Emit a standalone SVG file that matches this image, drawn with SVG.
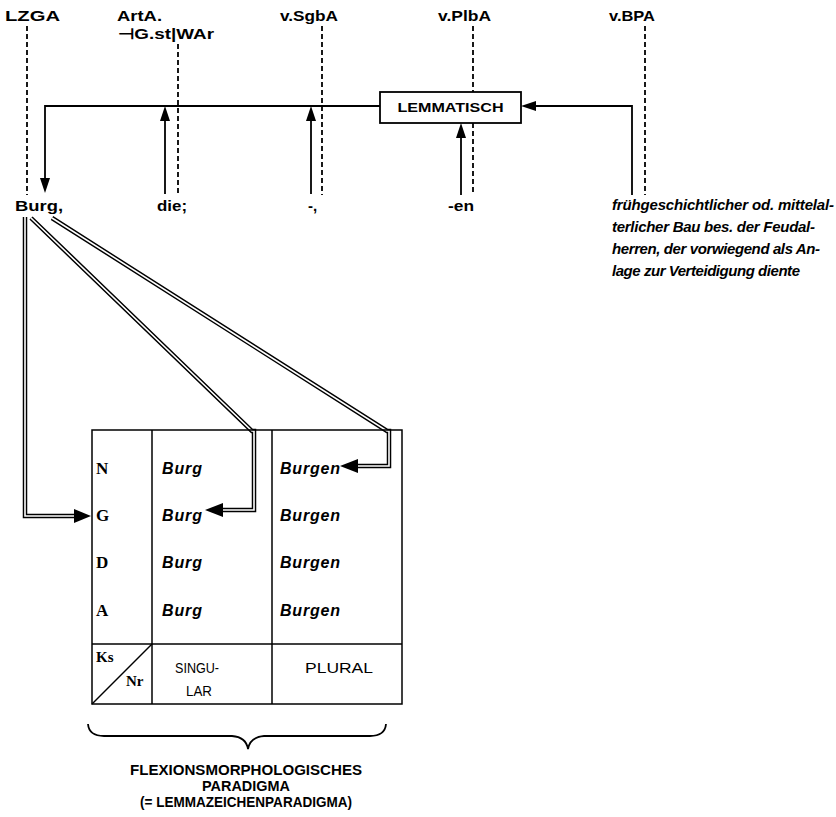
<svg xmlns="http://www.w3.org/2000/svg" width="836" height="817" viewBox="0 0 836 817">
<defs>
<style>
.lbl{font-family:"Liberation Sans",Arial,sans-serif;font-size:15px;font-weight:bold;fill:#000}
.wd{font-family:"Liberation Sans",Arial,sans-serif;font-size:15px;font-weight:bold;fill:#000}
.def{font-family:"Liberation Sans",Arial,sans-serif;font-size:15px;font-style:italic;font-weight:bold;fill:#000}
.box{font-family:"Liberation Sans",Arial,sans-serif;font-size:12.5px;font-weight:bold;fill:#000}
.cs{font-family:"Liberation Serif","Times New Roman",serif;font-size:17px;font-weight:bold;fill:#000}
.it{font-family:"Liberation Sans",Arial,sans-serif;font-size:16px;font-style:italic;font-weight:bold;fill:#000}
.hd{font-family:"Liberation Sans",Arial,sans-serif;font-size:15px;fill:#000}
.cap{font-family:"Liberation Sans",Arial,sans-serif;font-size:14px;font-weight:bold;fill:#000}
.dash{stroke:#000;stroke-width:1.8;stroke-dasharray:5 3;fill:none}
.sol{stroke:#000;stroke-width:1.8;fill:none}
.dblo{stroke:#000;stroke-width:4.5;fill:none;stroke-linejoin:miter}
.dbli{stroke:#fff;stroke-width:1.6;fill:none;stroke-linejoin:miter}
.grid{stroke:#000;stroke-width:1.5;fill:none}
</style>
</defs>
<rect width="836" height="817" fill="#fff"/>

<g id="top-labels">
<text class="lbl" x="5" y="21" textLength="55" lengthAdjust="spacingAndGlyphs">LZGA</text>
<text class="lbl" x="117" y="21" textLength="45" lengthAdjust="spacingAndGlyphs">ArtA.</text>
<text class="lbl" x="118" y="39" textLength="96" lengthAdjust="spacingAndGlyphs">⊣G.st|WAr</text>
<text class="lbl" x="280" y="21" textLength="58" lengthAdjust="spacingAndGlyphs">v.SgbA</text>
<text class="lbl" x="438" y="21" textLength="53" lengthAdjust="spacingAndGlyphs">v.PlbA</text>
<text class="lbl" x="609" y="21" textLength="46" lengthAdjust="spacingAndGlyphs">v.BPA</text>
</g>

<g id="dashed-guides">
<line class="dash" x1="27" y1="26" x2="27" y2="195"/>
<line class="dash" x1="178" y1="44" x2="178" y2="195"/>
<line class="dash" x1="322" y1="26" x2="322" y2="195"/>
<line class="dash" x1="473" y1="26" x2="473" y2="92"/>
<line class="dash" x1="473" y1="123" x2="473" y2="195"/>
<line class="dash" x1="645" y1="26" x2="645" y2="195"/>
</g>

<g id="lemmatisch">
<rect x="380" y="92" width="141" height="31" fill="#fff" stroke="#000" stroke-width="1.8"/>
<text class="box" x="450.5" y="112" text-anchor="middle" textLength="106" lengthAdjust="spacingAndGlyphs">LEMMATISCH</text>
</g>

<g id="connectors">
<path class="sol" d="M380,106 H45 V180"/>
<polygon points="40,178 50,178 45,193"/>
<line class="sol" x1="165" y1="194" x2="165" y2="120"/>
<polygon points="160,121 170,121 165,106"/>
<line class="sol" x1="311" y1="194" x2="311" y2="120"/>
<polygon points="306,121 316,121 311,106"/>
<line class="sol" x1="461" y1="195" x2="461" y2="137"/>
<polygon points="456,138 466,138 461,123"/>
<path class="sol" d="M632,195 V106 H535"/>
<polygon points="536,101 536,111 521,106"/>

<path class="dblo" d="M25,217 V516 H76"/>
<path class="dbli" d="M25,217 V516 H76"/>
<polygon points="74,509 74,523 91,516"/>
<path class="dblo" d="M31,218 L252,431 H254 V510 H222"/>
<path class="dbli" d="M31,218 L252,431 H254 V510 H222"/>
<polygon points="223,503 223,517 205,510"/>
<path class="dblo" d="M52,218 L387,431 H389 V466 H357"/>
<path class="dbli" d="M52,218 L387,431 H389 V466 H357"/>
<polygon points="358,459 358,473 340,466"/>
</g>

<g id="forms">
<text class="wd" x="15" y="211" textLength="48" lengthAdjust="spacingAndGlyphs">Burg,</text>
<text class="wd" x="157" y="211" textLength="30" lengthAdjust="spacingAndGlyphs">die;</text>
<text class="wd" x="308" y="211">-,</text>
<text class="wd" x="448" y="211" textLength="26" lengthAdjust="spacingAndGlyphs">-en</text>
</g>

<g id="definition">
<text class="def" x="612" y="210" textLength="222">frühgeschichtlicher od. mittelal-</text>
<text class="def" x="612" y="232" textLength="203">terlicher Bau bes. der Feudal-</text>
<text class="def" x="612" y="254" textLength="208">herren, der vorwiegend als An-</text>
<text class="def" x="612" y="276" textLength="188">lage zur Verteidigung diente</text>
</g>

<g id="paradigm-table">
<rect class="grid" x="92" y="430" width="310" height="274"/>
<line class="grid" x1="152" y1="430" x2="152" y2="704"/>
<line class="grid" x1="272" y1="430" x2="272" y2="704"/>
<line class="grid" x1="92" y1="644" x2="402" y2="644"/>
<line class="grid" x1="92" y1="704" x2="152" y2="644"/>
<text class="cs" x="96" y="474">N</text>
<text class="cs" x="96" y="521">G</text>
<text class="cs" x="96" y="568">D</text>
<text class="cs" x="96" y="616">A</text>
<text class="it" x="162" y="474" textLength="40">Burg</text>
<text class="it" x="162" y="521" textLength="40">Burg</text>
<text class="it" x="162" y="568" textLength="40">Burg</text>
<text class="it" x="162" y="616" textLength="40">Burg</text>
<text class="it" x="280" y="474" textLength="60">Burgen</text>
<text class="it" x="280" y="521" textLength="60">Burgen</text>
<text class="it" x="280" y="568" textLength="60">Burgen</text>
<text class="it" x="280" y="616" textLength="60">Burgen</text>
<text class="cs" x="96" y="662" style="font-size:15px">Ks</text>
<text class="cs" x="126" y="686" style="font-size:15px">Nr</text>
<text class="hd" x="197" y="673" text-anchor="middle" textLength="44" lengthAdjust="spacingAndGlyphs">SINGU-</text>
<text class="hd" x="199" y="696" text-anchor="middle" textLength="26" lengthAdjust="spacingAndGlyphs">LAR</text>
<text class="hd" x="339" y="673" text-anchor="middle" textLength="68" lengthAdjust="spacingAndGlyphs">PLURAL</text>
</g>

<g id="caption">
<path class="sol" d="M88,724 Q89,736 104,736 L232,736 Q246,737 248,749 Q250,737 264,736 L370,736 Q385,736 386,724"/>
<text class="cap" x="246" y="775" text-anchor="middle" textLength="232" lengthAdjust="spacingAndGlyphs">FLEXIONSMORPHOLOGISCHES</text>
<text class="cap" x="246" y="791" text-anchor="middle" textLength="88" lengthAdjust="spacingAndGlyphs">PARADIGMA</text>
<text class="cap" x="246" y="807" text-anchor="middle" textLength="212" lengthAdjust="spacingAndGlyphs">(= LEMMAZEICHENPARADIGMA)</text>
</g>
</svg>
